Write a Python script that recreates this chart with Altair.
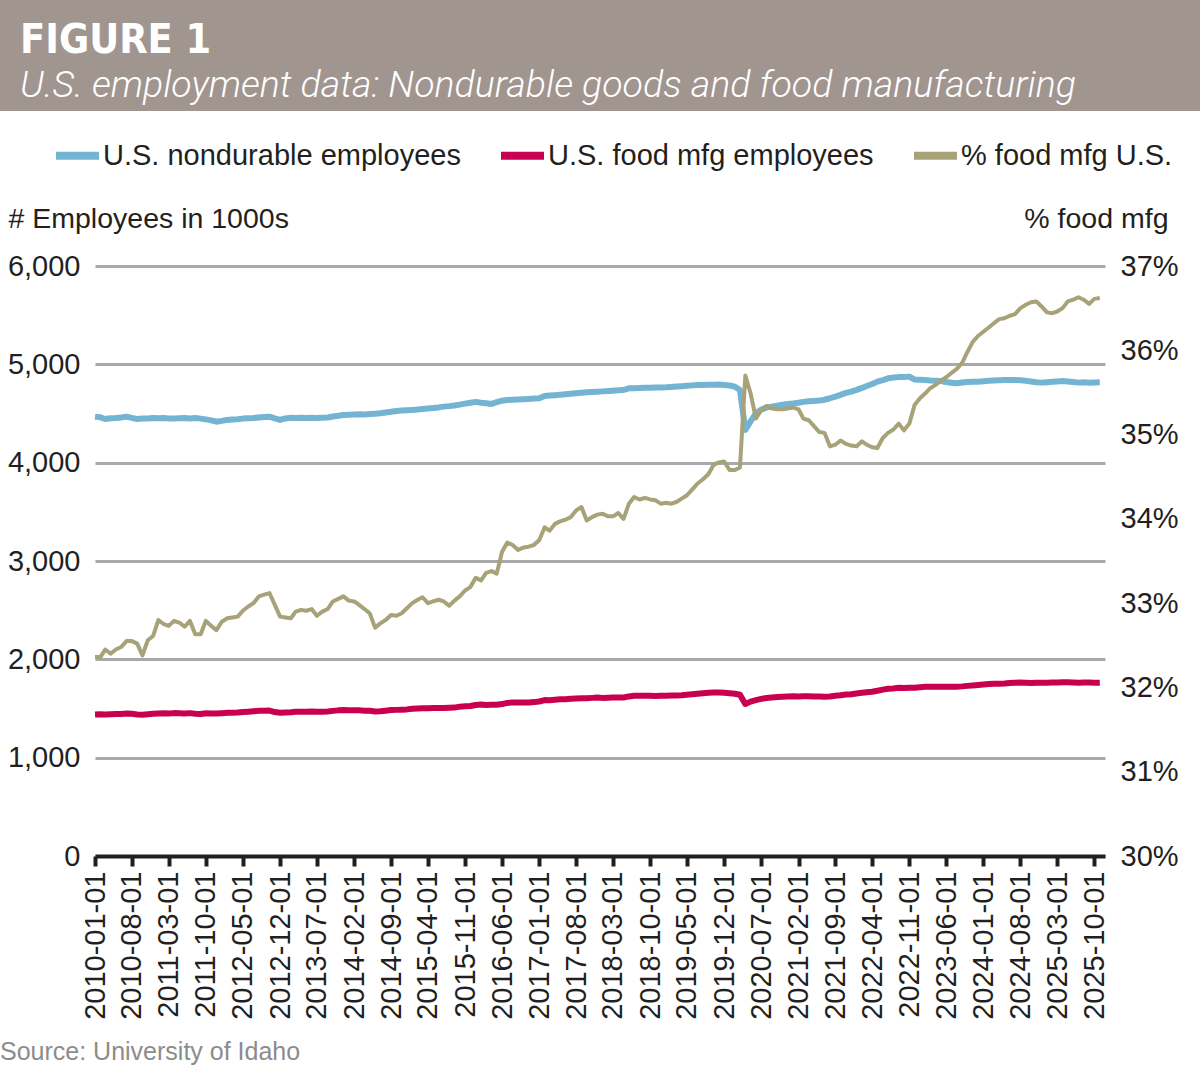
import altair as alt
import pandas as pd

SANS = "Liberation Sans, Arial, sans-serif"
CONDENSED = "DejaVu Sans Condensed, Liberation Sans, sans-serif"
INK = "#231f20"

# Monthly series, Jan 2010 - Nov 2025 (thousands of employees)
nondurable = [
    4468, 4461, 4444, 4452, 4455, 4460, 4468, 4455, 4444, 4448, 4450, 4455,  # 2010
    4452, 4455, 4450, 4448, 4452, 4455, 4450, 4455, 4448, 4440, 4430, 4417,  # 2011
    4425, 4435, 4440, 4442, 4448, 4452, 4455, 4460, 4465, 4468, 4450, 4434,  # 2012
    4450, 4457, 4455, 4457, 4455, 4457, 4455, 4457, 4460, 4470, 4478, 4485,  # 2013
    4488, 4490, 4492, 4490, 4495, 4498, 4502, 4510, 4518, 4525, 4530, 4533,  # 2014
    4536, 4540, 4545, 4550, 4555, 4562, 4570, 4575, 4582, 4590, 4600, 4610,  # 2015
    4618, 4610, 4605, 4597, 4615, 4630, 4638, 4640, 4642, 4645, 4648, 4652,  # 2016
    4654, 4678, 4682, 4686, 4690, 4695, 4700, 4706, 4712, 4715, 4718, 4722,  # 2017
    4725, 4728, 4732, 4736, 4739, 4756, 4758, 4760, 4762, 4763, 4764, 4765,  # 2018
    4766, 4770, 4774, 4778, 4782, 4786, 4790, 4791, 4792, 4793, 4795, 4790,  # 2019
    4785, 4773, 4739, 4333, 4420, 4502, 4540, 4560, 4570, 4580, 4590, 4597,  # 2020
    4602, 4610, 4618, 4625, 4628, 4631, 4640, 4655, 4672, 4690, 4710, 4722,  # 2021
    4740, 4760, 4780, 4800, 4824, 4840, 4858, 4865, 4870, 4872, 4875, 4845,  # 2022
    4843, 4840, 4836, 4834, 4830, 4820, 4812, 4807, 4815, 4820, 4822, 4824,  # 2023
    4828, 4832, 4835, 4838, 4840, 4841, 4840, 4838, 4832, 4825, 4818, 4814,  # 2024
    4818, 4822, 4826, 4830, 4826, 4820, 4814, 4818, 4812, 4816, 4818,        # 2025
]

food_mfg = [
    1440, 1442, 1438, 1441, 1443, 1445, 1448, 1446, 1440, 1437, 1442, 1446,  # 2010
    1450, 1452, 1450, 1453, 1452, 1450, 1453, 1446, 1444, 1452, 1450, 1448,  # 2011
    1452, 1456, 1458, 1460, 1464, 1468, 1472, 1476, 1478, 1479, 1464, 1456,  # 2012
    1460, 1462, 1466, 1468, 1467, 1469, 1466, 1468, 1470, 1476, 1481, 1484,  # 2013
    1482, 1481, 1481, 1478, 1477, 1470, 1473, 1478, 1484, 1486, 1488, 1491,  # 2014
    1497, 1501, 1502, 1502, 1504, 1506, 1506, 1507, 1509, 1519, 1522, 1525,  # 2015
    1536, 1540, 1536, 1537, 1538, 1545, 1557, 1560, 1560, 1560, 1562, 1565,  # 2016
    1571, 1586, 1585, 1590, 1593, 1594, 1598, 1601, 1605, 1604, 1608, 1612,  # 2017
    1608, 1610, 1611, 1613, 1612, 1623, 1630, 1629, 1630, 1630, 1628, 1630,  # 2018
    1630, 1632, 1633, 1635, 1640, 1645, 1650, 1655, 1660, 1662, 1663, 1660,  # 2019
    1655, 1650, 1640, 1546, 1570, 1585, 1598, 1607, 1612, 1616, 1620, 1623,  # 2020
    1625, 1622, 1625, 1625, 1622, 1622, 1620, 1622, 1630, 1635, 1642, 1645,  # 2021
    1652, 1660, 1666, 1670, 1680, 1692, 1700, 1704, 1710, 1708, 1712, 1712,  # 2022
    1716, 1720, 1720, 1721, 1720, 1720, 1720, 1722, 1725, 1730, 1734, 1739,  # 2023
    1744, 1748, 1752, 1752, 1755, 1760, 1762, 1765, 1762, 1760, 1762, 1761,  # 2024
    1762, 1764, 1765, 1766, 1767, 1765, 1763, 1764, 1764, 1762, 1763,        # 2025
]

# Food manufacturing share of nondurable employment (%)
food_share = [
    32.36, 32.36, 32.45, 32.40, 32.45, 32.48, 32.55, 32.55, 32.52, 32.38, 32.56, 32.61,  # 2010
    32.80, 32.75, 32.73, 32.79, 32.77, 32.72, 32.79, 32.63, 32.63, 32.79, 32.73, 32.68,  # 2011
    32.78, 32.82, 32.83, 32.84, 32.91, 32.96, 33.00, 33.08, 33.10, 33.12, 32.98, 32.84,  # 2012
    32.83, 32.82, 32.90, 32.92, 32.91, 32.93, 32.85, 32.90, 32.93, 33.02, 33.05, 33.08,  # 2013
    33.03, 33.02, 32.98, 32.93, 32.88, 32.71, 32.76, 32.80, 32.86, 32.85, 32.88, 32.94,  # 2014
    33.00, 33.04, 33.07, 33.00, 33.02, 33.04, 33.02, 32.97, 33.03, 33.08, 33.15, 33.19,  # 2015
    33.30, 33.27, 33.36, 33.38, 33.35, 33.61, 33.72, 33.69, 33.63, 33.66, 33.67, 33.69,  # 2016
    33.75, 33.90, 33.86, 33.94, 33.97, 33.99, 34.02, 34.10, 34.14, 33.98, 34.02, 34.05,  # 2017
    34.06, 34.03, 34.03, 34.07, 34.00, 34.18, 34.26, 34.23, 34.25, 34.23, 34.22, 34.18,  # 2018
    34.19, 34.18, 34.20, 34.24, 34.28, 34.35, 34.42, 34.47, 34.53, 34.64, 34.67, 34.68,  # 2019
    34.58, 34.58, 34.61, 35.70, 35.49, 35.19, 35.29, 35.34, 35.31, 35.30, 35.30, 35.31,  # 2020
    35.32, 35.30, 35.19, 35.17, 35.10, 35.03, 35.02, 34.86, 34.88, 34.93, 34.89, 34.87,  # 2021
    34.86, 34.92, 34.88, 34.85, 34.84, 34.96, 35.02, 35.06, 35.13, 35.05, 35.13, 35.35,  # 2022
    35.43, 35.49, 35.55, 35.59, 35.64, 35.68, 35.73, 35.78, 35.85, 35.98, 36.10, 36.17,  # 2023
    36.22, 36.27, 36.32, 36.37, 36.38, 36.41, 36.43, 36.50, 36.54, 36.57, 36.58, 36.52,  # 2024
    36.45, 36.44, 36.46, 36.50, 36.58, 36.60, 36.63, 36.60, 36.55, 36.61, 36.62,         # 2025
]

series_names = ["U.S. nondurable employees", "U.S. food mfg employees", "% food mfg U.S."]
series_colors = ["#73b4d2", "#c8004f", "#a8a278"]

left_ticks = [0, 1000, 2000, 3000, 4000, 5000, 6000]
right_ticks = [30, 31, 32, 33, 34, 35, 36, 37]

months = pd.date_range("2010-01-01", periods=len(nondurable), freq="MS")
month_labels = months.strftime("%Y-%m-%d").tolist()
tick_months = months[::7]
x_ticks = [alt.DateTime(year=int(d.year), month=int(d.month), date=1, utc=True) for d in tick_months]

emp = pd.DataFrame({
    "date": month_labels,
    series_names[0]: nondurable,
    series_names[1]: food_mfg,
}).melt("date", var_name="series", value_name="employees")

share = pd.DataFrame({"date": month_labels, "share": food_share, "series": series_names[2]})

# plot area and the margins around it (whole figure is 1200 x 1065)
W, H = 1010, 590
PAD = {"left": 95, "top": 266, "right": 95, "bottom": 209}

x_enc = alt.X(
    "date:T",
    title=None,
    scale=alt.Scale(
        type="utc",
        domain=[alt.DateTime(year=2010, month=1, date=1, utc=True),
                alt.DateTime(year=2025, month=12, date=1, utc=True)],
    ),
    axis=alt.Axis(
        values=x_ticks, format="%Y-%m-%d", labelAngle=-90,
        labelFont=SANS, labelFontSize=29, labelColor=INK, labelPadding=5,
        domainColor=INK, domainWidth=4, tickColor=INK, tickWidth=4, tickSize=10,
        grid=False, labelOverlap=False, labelFlush=False,
    ),
)

color_enc = alt.Color(
    "series:N",
    scale=alt.Scale(domain=series_names, range=series_colors),
    legend=alt.Legend(
        title=None, orient="none", legendX=-43, legendY=-136, direction="horizontal",
        symbolType="stroke", symbolSize=1849, symbolStrokeWidth=8,
        labelFont=SANS, labelFontSize=29, labelColor=INK, labelOffset=0,
        labelLimit=0, columnPadding=24, padding=0,
    ),
)

emp_lines = alt.Chart(emp).mark_line(strokeWidth=6, strokeJoin="round").encode(
    x=x_enc,
    y=alt.Y(
        "employees:Q",
        scale=alt.Scale(domain=[0, 6000], nice=False),
        axis=alt.Axis(
            orient="left", values=left_ticks, format=",.0f", title="# Employees in 1000s",
            titleAngle=0, titleAlign="left", titleBaseline="middle", titleX=-87, titleY=-48,
            titleFont=SANS, titleFontSize=28.5, titleFontWeight="normal", titleColor=INK,
            labelFont=SANS, labelFontSize=29, labelColor=INK, labelPadding=15,
            domain=False, ticks=False, grid=True, gridColor="#a7a9ac", gridWidth=3,
        ),
    ),
    color=color_enc,
    detail="series:N",
)

share_line = alt.Chart(share).mark_line(strokeWidth=4, strokeJoin="round").encode(
    x=x_enc,
    y=alt.Y(
        "share:Q",
        scale=alt.Scale(domain=[30, 37], nice=False),
        axis=alt.Axis(
            orient="right", values=right_ticks, labelExpr="datum.value + '%'", title="% food mfg",
            titleAngle=0, titleAlign="right", titleBaseline="middle", titleX=63, titleY=-48,
            titleFont=SANS, titleFontSize=28.5, titleFontWeight="normal", titleColor=INK,
            labelFont=SANS, labelFontSize=29, labelColor=INK, labelPadding=15,
            domain=False, ticks=False, grid=False,
        ),
    ),
    color=color_enc,
)

one = alt.Data(values=[{}])

header_band = alt.Chart(one).mark_rect(color="#a19590").encode(
    x=alt.value(-95), x2=alt.value(1105), y=alt.value(-266), y2=alt.value(-155)
)
figure_label = alt.Chart(one).mark_text(
    text="FIGURE 1", align="left", baseline="alphabetic", font=CONDENSED,
    fontSize=41, fontWeight="bold", color="white",
).encode(x=alt.value(-75), y=alt.value(-213))
subtitle = alt.Chart(one).mark_text(
    text="U.S. employment data: Nondurable goods and food manufacturing",
    align="left", baseline="alphabetic", font="Roboto, " + SANS,
    fontSize=37.5, fontStyle="italic", fontWeight=300, color="white",
).encode(x=alt.value(-75), y=alt.value(-169))
source_note = alt.Chart(one).mark_text(
    text="Source: University of Idaho", align="left", baseline="alphabetic",
    font=SANS, fontSize=25, color="#8c8c8c",
).encode(x=alt.value(-95), y=alt.value(794))

chart = (
    alt.layer(header_band, figure_label, subtitle, source_note, emp_lines, share_line)
    .resolve_scale(y="independent")
    .properties(
        width=W, height=H, padding=PAD, background="white",
        autosize=alt.AutoSizeParams(type="none"),
    )
    .configure_view(stroke=None)
)

chart.save("out.html", embed_options={"renderer": "svg", "actions": False})
